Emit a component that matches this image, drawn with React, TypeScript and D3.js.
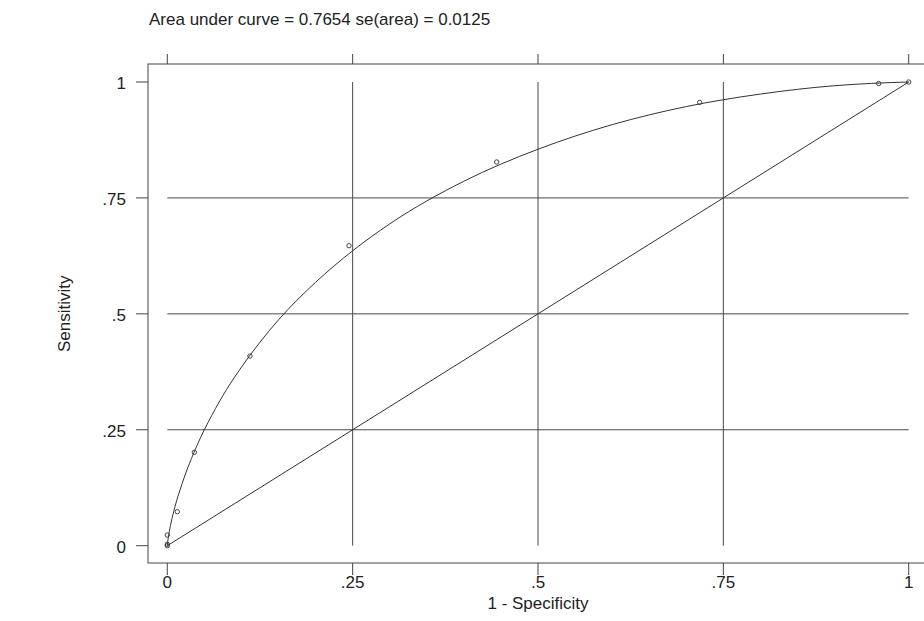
import React, { useEffect, useRef } from 'react';
import * as d3 from 'd3';

// observed operating points (1 - specificity, sensitivity)
const pointFpr = [0, 0, 0, 0.0135, 0.0365, 0.1115, 0.2451, 0.4443, 0.718, 0.9595, 1];
const pointSens = [0, 0.003, 0.023, 0.0733, 0.2014, 0.409, 0.647, 0.8275, 0.956, 0.9966, 1];

// fitted ROC curve
const fitFpr = [0, 0.001, 0.002, 0.005, 0.01, 0.02, 0.04, 0.06, 0.08, 0.1, 0.15, 0.2, 0.25, 0.3, 0.4, 0.5, 0.6, 0.7, 0.8, 0.9, 0.95, 1];
const fitSens = [0, 0.014, 0.024, 0.049, 0.082, 0.134, 0.216, 0.281, 0.337, 0.385, 0.487, 0.568, 0.636, 0.694, 0.786, 0.855, 0.908, 0.947, 0.974, 0.992, 0.997, 1];

// chance line
const diagFpr = [0, 1];
const diagSens = [0, 1];

const tickValues = [0, 0.25, 0.5, 0.75, 1];
const tickLabels = ['0', '.25', '.5', '.75', '1'];

const title = 'Area under curve = 0.7654 se(area) = 0.0125';
const xTitle = '1 - Specificity';
const yTitle = 'Sensitivity';

const W = 924;
const H = 621;
const FONT = '"Liberation Sans", Arial, Helvetica, sans-serif';

const RocChart = () => {
  const svgRef = useRef(null);

  useEffect(() => {
    const svg = d3.select(svgRef.current);
    svg.selectAll('*').remove();

    const x = d3.scaleLinear().domain([0, 1]).range([167.3, 908.7]);
    const y = d3.scaleLinear().domain([0, 1]).range([545.7, 82]);

    const frame = { left: 148, right: 928, top: 64, bottom: 563 };

    svg.append('rect').attr('width', W).attr('height', H).attr('fill', '#fff');

    // grid
    const grid = svg.append('g').attr('stroke', '#4a4a4a').attr('stroke-width', 1);
    tickValues.slice(1, 4).forEach(v => {
      grid.append('line')
        .attr('x1', x(v)).attr('x2', x(v))
        .attr('y1', y(0)).attr('y2', y(1));
      grid.append('line')
        .attr('x1', x(0)).attr('x2', x(1))
        .attr('y1', y(v)).attr('y2', y(v));
    });

    // frame
    svg.append('rect')
      .attr('x', frame.left).attr('y', frame.top)
      .attr('width', frame.right - frame.left)
      .attr('height', frame.bottom - frame.top)
      .attr('fill', 'none').attr('stroke', '#444').attr('stroke-width', 1);

    // ticks
    const ticks = svg.append('g').attr('stroke', '#444').attr('stroke-width', 1);
    tickValues.forEach(v => {
      ticks.append('line').attr('x1', x(v)).attr('x2', x(v)).attr('y1', frame.bottom).attr('y2', frame.bottom + 12);
      ticks.append('line').attr('x1', x(v)).attr('x2', x(v)).attr('y1', frame.top).attr('y2', frame.top - 10);
      ticks.append('line').attr('x1', frame.left).attr('x2', frame.left - 12).attr('y1', y(v)).attr('y2', y(v));
    });

    const labels = svg.append('g')
      .attr('font-family', FONT).attr('font-size', 17).attr('fill', '#222');

    tickValues.forEach((v, i) => {
      labels.append('text')
        .attr('x', x(v)).attr('y', 588)
        .attr('text-anchor', 'middle')
        .text(tickLabels[i]);
      labels.append('text')
        .attr('x', 126).attr('y', y(v) + 7)
        .attr('text-anchor', 'end')
        .text(tickLabels[i]);
    });

    labels.append('text')
      .attr('x', x(0.5)).attr('y', 609)
      .attr('text-anchor', 'middle')
      .text(xTitle);

    labels.append('text')
      .attr('transform', `translate(70, ${(y(0) + y(1)) / 2}) rotate(-90)`)
      .attr('text-anchor', 'middle')
      .text(yTitle);

    labels.append('text')
      .attr('x', 149).attr('y', 25)
      .text(title);

    // lines
    const fit = fitFpr.map((d, i) => [d, fitSens[i]]);
    const diag = diagFpr.map((d, i) => [d, diagSens[i]]);

    const line = d3.line()
      .x(d => x(d[0]))
      .y(d => y(d[1]));

    svg.append('path')
      .datum(diag)
      .attr('d', line)
      .attr('fill', 'none').attr('stroke', '#333').attr('stroke-width', 1);

    svg.append('path')
      .datum(fit)
      .attr('d', line.curve(d3.curveMonotoneX))
      .attr('fill', 'none').attr('stroke', '#333').attr('stroke-width', 1);

    // points
    svg.append('g')
      .selectAll('circle')
      .data(pointFpr.map((d, i) => [d, pointSens[i]]))
      .join('circle')
      .attr('cx', d => x(d[0]))
      .attr('cy', d => y(d[1]))
      .attr('r', 2.2)
      .attr('fill', 'none')
      .attr('stroke', '#333')
      .attr('stroke-width', 0.9);
  }, []);

  return (
    <svg
      ref={svgRef}
      width={W}
      height={H}
      style={{ position: 'absolute', left: 0, top: 0, display: 'block' }}
    ></svg>
  );
};

export default function App() {
  return <RocChart />;
}
